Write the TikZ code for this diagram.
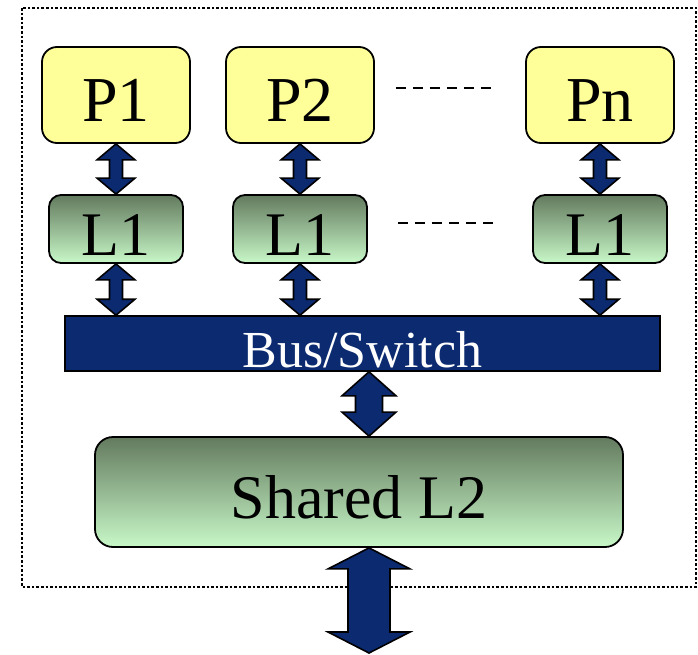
\documentclass[tikz,border=0pt]{standalone}
\usepackage{fontspec}
\setmainfont{Liberation Serif}
\usetikzlibrary{calc}

\definecolor{procyellow}{HTML}{FFFF99}
\definecolor{busnavy}{HTML}{0B2A6F}
\definecolor{cachetop}{HTML}{637A5E}
\definecolor{cachebot}{HTML}{C8F8C8}

\tikzset{
  proc/.style={draw=black, line width=1.8pt, rounded corners=15pt, fill=procyellow,
    minimum width=148pt, minimum height=96pt, inner sep=0pt,
    font=\fontsize{64}{64}\selectfont, text height=54pt, text depth=0pt},
  cache/.style={draw=black, line width=1.8pt, rounded corners=12pt,
    top color=cachetop, bottom color=cachebot,
    minimum width=134pt, minimum height=68pt, inner sep=0pt,
    font=\fontsize{62}{62}\selectfont, text height=52pt, text depth=0pt},
  bigcache/.style={cache, rounded corners=18pt, minimum width=528pt, minimum height=110pt},
  busbar/.style={draw=black, line width=1.6pt, fill=busnavy, text=white,
    minimum width=595pt, minimum height=55pt, inner sep=0pt,
    font=\fontsize{52}{52}\selectfont, text height=47pt, text depth=0pt},
  biarrow/.style={draw=black, line width=1.6pt, fill=busnavy, line join=miter},
  etc/.style={line width=2.4pt, dash pattern=on 10pt off 7pt},
  frame/.style={line width=2.7pt, dash pattern=on 2.6pt off 2pt}
}

% double-headed block arrow: top point, bottom point, shaft half, head half, head length
\newcommand{\biarrow}[5]{%
  \path[biarrow] let \p1=(#1), \p2=(#2) in
    (\x1,\y1) -- (\x1+#4,\y1-#5) -- (\x1+#3,\y1-#5) -- (\x1+#3,\y2+#5)
    -- (\x1+#4,\y2+#5) -- (\x1,\y2) -- (\x1-#4,\y2+#5) -- (\x1-#3,\y2+#5)
    -- (\x1-#3,\y1-#5) -- (\x1-#4,\y1-#5) -- cycle;}

\begin{document}
\begin{tikzpicture}[x=1pt,y=-1pt]
\useasboundingbox (0,0) rectangle (698,655);
\draw[frame] (22,8) rectangle (696,587);

% processors
\node[proc] (p1) at (116,95) {P1};
\node[proc] (p2) at (300,95) {P2};
\node[proc] (pn) at (600,95) {Pn};

% private caches
\node[cache] (c1) at (116,229) {L1};
\node[cache] (c2) at (300,229) {L1};
\node[cache] (cn) at (600,229) {L1};

\node[busbar] (bus) at (362.5,343.5) {Bus/Switch};
\node[bigcache] (l2) at (359,492) {Shared L2};
\coordinate (out) at (369,653);

\draw[etc] ([xshift=21pt,yshift=7pt]p2.east) -- ([xshift=-29pt,yshift=7pt]pn.west);
\draw[etc] ([xshift=30pt,yshift=6pt]c2.east) -- ([xshift=-35pt,yshift=6pt]cn.west);

\foreach \pu/\cu in {p1/c1, p2/c2, pn/cn} {
  \biarrow{\pu.south}{\cu.north}{6.5pt}{19pt}{16pt}
  \biarrow{\cu.south}{\cu.south |- bus.north}{6.5pt}{19pt}{16pt}
}

\biarrow{bus.south -| out}{l2.north -| out}{13.5pt}{27pt}{24pt}
\biarrow{l2.south -| out}{out}{21pt}{41pt}{21pt}
\end{tikzpicture}
\end{document}
